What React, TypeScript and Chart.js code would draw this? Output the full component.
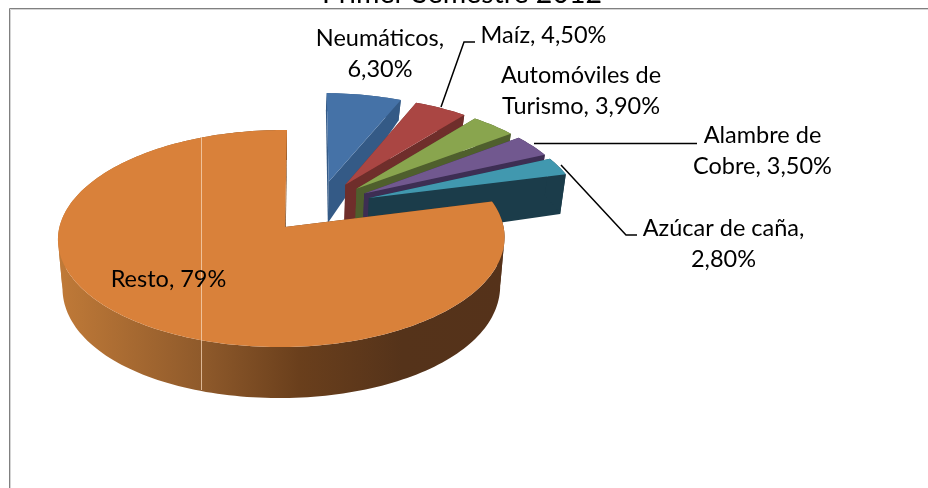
import React, { useEffect, useRef } from "react";
import { Chart, registerables } from "chart.js";

Chart.register(...registerables);

const chartTitle = "Primer Semestre 2012";
const categories = ["Neumáticos", "Maíz", "Automóviles de Turismo", "Alambre de Cobre", "Azúcar de caña", "Resto"];
const shares = [6.3, 4.5, 3.9, 3.5, 2.8, 79];
const topColors = ["#4572a7", "#aa4643", "#89a54e", "#71588f", "#4198af", "#d9813a"];
const sideColors = ["#345a86", "#6f2e2b", "#4f5f2d", "#3d2e53", "#1b3c4a", "#8a5426"];
const labelLines = [
  ["Neumáticos,", "6,30%"],
  ["Maíz, 4,50%"],
  ["Automóviles de", "Turismo, 3,90%"],
  ["Alambre de", "Cobre, 3,50%"],
  ["Azúcar de caña,", "2,80%"],
  ["Resto, 79%"],
];
const labelCentres = [
  [380, 38],
  [543.5, 35],
  [581, 75],
  [762.5, 135],
  [723.5, 228],
  [168.5, 279],
];
const leaders = [
  [[441, 107], [464, 42], [475, 42]],
  [[534, 143.5], [697, 143.5]],
  [[561, 165], [626, 235], [637, 235]],
];

const LINE = 31.5;

function project(U: number, V: number) {
  const w = 1 + 0.106 * V + 0.0157 * U;
  return { x: 285 + (222 * U) / w + 2 * V, y: 227 - (107.3 * V) / w };
}
function drop(V: number) {
  return 47.25 - 10.45 * V - 6.7 * V * V;
}
function lower(U: number, V: number) {
  const p = project(U, V);
  return { x: 285 + (p.x - 285) * 0.98, y: p.y + drop(V) };
}

type P = { U: number; V: number };

function ribbon(ctx: CanvasRenderingContext2D, pts: P[]) {
  if (pts.length < 2) return;
  ctx.beginPath();
  pts.forEach((p, k) => {
    const q = project(p.U, p.V);
    if (k === 0) ctx.moveTo(q.x, q.y);
    else ctx.lineTo(q.x, q.y);
  });
  for (let k = pts.length - 1; k >= 0; k--) {
    const q = lower(pts[k].U, pts[k].V);
    ctx.lineTo(q.x, q.y);
  }
  ctx.closePath();
  ctx.fill();
}

const pie3d = {
  id: "pie3d",
  beforeDatasetDraw() {
    return false;
  },
  afterDatasetsDraw(chart: any) {
    const ctx: CanvasRenderingContext2D = chart.ctx;
    const els = chart.getDatasetMeta(0).data as any[];
    const dirOf = (el: any) => {
      const m = (el.startAngle + el.endAngle) / 2;
      return { x: Math.cos(m) * (el.options.offset / el.outerRadius), y: Math.sin(m) * (el.options.offset / el.outerRadius) };
    };
    const anchor = dirOf(els[els.length - 1]);

    const wallGrad = ctx.createLinearGradient(58, 0, 505, 0);
    wallGrad.addColorStop(0, "#c07a38");
    wallGrad.addColorStop(0.32, "#8f5a2b");
    wallGrad.addColorStop(0.54, "#6a3f1c");
    wallGrad.addColorStop(0.77, "#55331a");
    wallGrad.addColorStop(1, "#55321a");

    els.forEach((el, i) => {
      const d = dirOf(el);
      const ox = d.x - anchor.x;
      const oy = d.y - anchor.y;
      const apex: P = { U: ox, V: -oy };
      const arc: P[] = [];
      const steps = Math.max(6, Math.ceil((el.endAngle - el.startAngle) * 40));
      for (let s = 0; s <= steps; s++) {
        const a = el.startAngle + ((el.endAngle - el.startAngle) * s) / steps;
        arc.push({ U: ox + Math.cos(a), V: -(oy + Math.sin(a)) });
      }
      // split the outer wall where it turns round on screen
      let iMin = 0;
      let iMax = 0;
      arc.forEach((p, k) => {
        const x = project(p.U, p.V).x;
        if (x < project(arc[iMin].U, arc[iMin].V).x) iMin = k;
        if (x > project(arc[iMax].U, arc[iMax].V).x) iMax = k;
      });
      const cuts = Array.from(new Set([0, iMin, iMax, arc.length - 1])).sort((a, b) => a - b);

      ctx.save();
      ctx.fillStyle = i === els.length - 1 ? wallGrad : sideColors[i];
      ribbon(ctx, [apex, arc[0]]);
      ribbon(ctx, [apex, arc[arc.length - 1]]);
      for (let c = 0; c + 1 < cuts.length; c++) ribbon(ctx, arc.slice(cuts[c], cuts[c + 1] + 1));
      ctx.fillStyle = el.options.backgroundColor;
      ctx.beginPath();
      [apex, ...arc].forEach((p, k) => {
        const q = project(p.U, p.V);
        if (k === 0) ctx.moveTo(q.x, q.y);
        else ctx.lineTo(q.x, q.y);
      });
      ctx.closePath();
      ctx.fill();
      ctx.restore();
    });

    // thin light seam across the large slice
    ctx.save();
    ctx.strokeStyle = "rgba(245,215,185,0.75)";
    ctx.lineWidth = 1;
    ctx.beginPath();
    ctx.moveTo(201.5, 137);
    ctx.lineTo(201.5, 390);
    ctx.stroke();

    // chart frame
    ctx.lineWidth = 1;
    ctx.strokeStyle = "#d4d4d4";
    ctx.beginPath();
    ctx.moveTo(10.5, 488);
    ctx.lineTo(10.5, 9.5);
    ctx.lineTo(928, 9.5);
    ctx.stroke();
    ctx.strokeStyle = "#808080";
    ctx.beginPath();
    ctx.moveTo(9.5, 488);
    ctx.lineTo(9.5, 8.5);
    ctx.lineTo(928, 8.5);
    ctx.stroke();

    // leaders
    ctx.strokeStyle = "#000";
    ctx.lineWidth = 1.5;
    leaders.forEach((l) => {
      ctx.beginPath();
      l.forEach((p, k) => (k === 0 ? ctx.moveTo(p[0], p[1]) : ctx.lineTo(p[0], p[1])));
      ctx.stroke();
    });

    // labels
    ctx.fillStyle = "#000";
    ctx.textAlign = "center";
    ctx.textBaseline = "middle";
    ctx.font = '23.5px Lato, "Open Sans", sans-serif';
    labelLines.forEach((lines, i) => {
      lines.forEach((t, k) => ctx.fillText(t, labelCentres[i][0], labelCentres[i][1] + k * LINE));
    });

    // title, cut by the top of the picture
    ctx.font = '28.5px Lato, "Open Sans", sans-serif';
    ctx.textBaseline = "alphabetic";
    ctx.fillText(chartTitle, 462, 3);
    ctx.restore();
  },
};

export default function App() {
  const ref = useRef<HTMLCanvasElement>(null);
  useEffect(() => {
    document.body.style.margin = "0";
    document.body.style.background = "#fff";
    const chart = new Chart(ref.current!, {
      type: "pie",
      data: {
        labels: categories,
        datasets: [{ data: shares, backgroundColor: topColors, borderWidth: 0, offset: 50 }],
      },
      options: {
        responsive: false,
        animation: false,
        radius: 200,
        plugins: { legend: { display: false }, tooltip: { enabled: false }, title: { display: false } },
      } as any,
      plugins: [pie3d as any],
    });
    return () => chart.destroy();
  }, []);
  return <canvas ref={ref} width={928} height={488} style={{ display: "block" }} />;
}
